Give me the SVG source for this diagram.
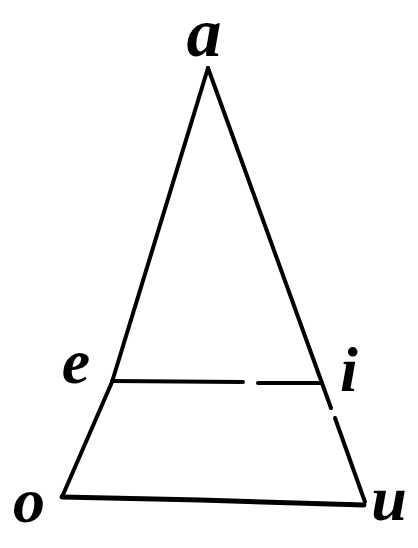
<svg xmlns="http://www.w3.org/2000/svg" width="418" height="548" viewBox="0 0 418 548">
<style>
.ln{fill:none;stroke:#000;stroke-width:4;stroke-linecap:round;stroke-linejoin:round}
.lb{font-family:"Liberation Serif","DejaVu Serif",serif;font-style:italic;font-weight:bold;fill:#000;text-anchor:middle}
</style>
<rect width="418" height="548" fill="#fff"/>
<g id="connectors">
<path class="ln" d="M208,68 L112,382 L62,497"/>
<path class="ln" d="M208,68 L331,408"/>
<path class="ln" d="M335,418 L365,502"/>
<path class="ln" style="stroke-width:5" d="M62,497 L200,500 L364,505"/>
<path class="ln" d="M112,381 L243,382"/>
<path class="ln" d="M258,383 L322,383"/>
</g>
<g id="node-a"><text class="lb" x="204" y="56" font-size="70">a</text></g>
<g id="node-e"><text class="lb" x="76" y="383" font-size="64">e</text></g>
<g id="node-i"><text class="lb" x="349" y="391" font-size="64">i</text></g>
<g id="node-o"><text class="lb" x="29" y="522" font-size="64">o</text></g>
<g id="node-u"><text class="lb" x="389" y="520" font-size="64">u</text></g>
</svg>
